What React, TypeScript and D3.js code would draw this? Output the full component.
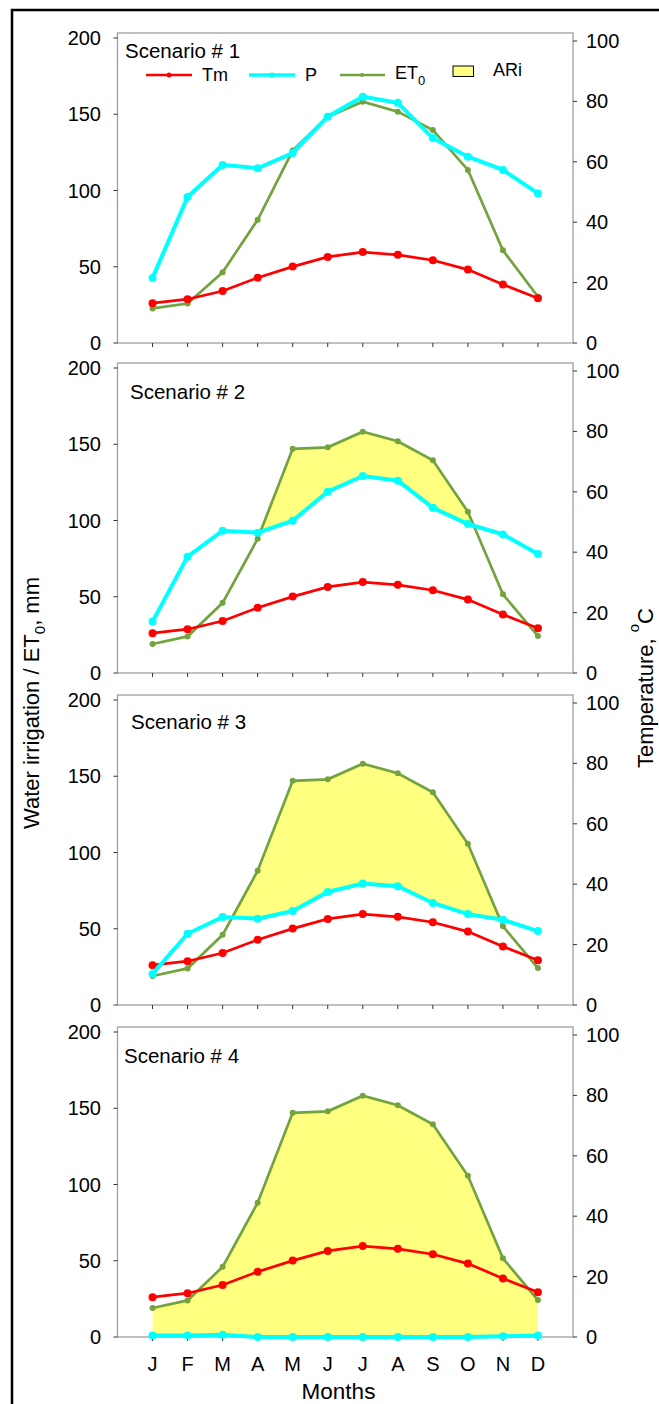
import React from "react";
import * as d3 from "d3";

// ---------- data ----------
const months = ["J", "F", "M", "A", "M", "J", "J", "A", "S", "O", "N", "D"];
const scenarioNames = ["Scenario # 1", "Scenario # 2", "Scenario # 3", "Scenario # 4"];

// mean temperature, °C (right axis)
const tm = [13.2, 14.5, 17.2, 21.6, 25.3, 28.5, 30.1, 29.2, 27.4, 24.3, 19.4, 14.8];

// reference evapotranspiration, mm (left axis)
const et0S1 = [22.7, 25.9, 46.4, 80.8, 126.2, 148.4, 158.2, 151.7, 139.7, 113.5, 60.8, 30.3];
const et0S234 = [19, 24, 46, 88, 147, 148, 158.2, 152, 139.5, 105.7, 51.6, 24.2];

// water irrigation P, mm (left axis)
const pS1 = [42.7, 95.7, 116.8, 114.6, 124.6, 148.4, 161.5, 157.5, 134.4, 122.2, 113.5, 98.1];
const pS2 = [33.7, 76.3, 93.3, 92.0, 99.9, 118.9, 129.2, 126.1, 108.4, 97.7, 90.9, 78.0];
const pS3 = [20.4, 46.7, 57.7, 56.6, 61.6, 74.1, 79.6, 77.9, 66.9, 59.6, 55.9, 48.5];
const pS4 = [1, 1, 1.5, 0, 0, 0, 0, 0, 0, 0, 0.5, 1];

const leftTicks = [0, 50, 100, 150, 200];
const rightTicks = [0, 20, 40, 60, 80, 100];

const et0Series = [et0S1, et0S234, et0S234, et0S234];
const pSeries = [pS1, pS2, pS3, pS4];
const showARi = [false, true, true, true];

// ---------- layout ----------
const W = 659;
const H = 1404;
const FONT = "'Liberation Sans', Arial, sans-serif";
const C_TM = "#ff0000";
const C_P = "#00ffff";
const C_ET = "#72a33e";
const C_ARI = "#ffff80";
const FRAME = "#a0a0a0";

const zeros = [343, 673, 1005, 1337];
const titleOffsets = [
  { x: 125, dy: 25 },
  { x: 130, dy: 36 },
  { x: 131, dy: 34 },
  { x: 124, dy: 36 },
];

const x = d3.scaleLinear().domain([0, 13]).range([117.5, 573]);

type Pt = { x: number; e: number; p: number };

function ariPoints(e: number[], p: number[]): Pt[] {
  const pts: Pt[] = [];
  for (let i = 0; i < e.length; i++) {
    pts.push({ x: i + 1, e: e[i], p: p[i] });
    if (i < e.length - 1) {
      const d0 = e[i] - p[i];
      const d1 = e[i + 1] - p[i + 1];
      if (d0 * d1 < 0) {
        const t = d0 / (d0 - d1);
        pts.push({
          x: i + 1 + t,
          e: e[i] + t * (e[i + 1] - e[i]),
          p: p[i] + t * (p[i + 1] - p[i]),
        });
      }
    }
  }
  return pts;
}

function Panel({ idx }: { idx: number }) {
  const zero = zeros[idx];
  const top = zero - 310;
  const yL = d3.scaleLinear().domain([0, 200]).range([zero, zero - 305]);
  const yR = d3.scaleLinear().domain([0, 100]).range([zero, zero - 302]);
  const e = et0Series[idx];
  const p = pSeries[idx];
  const lineL = d3
    .line<number>()
    .x((_, i) => x(i + 1))
    .y((d) => yL(d));
  const lineR = d3
    .line<number>()
    .x((_, i) => x(i + 1))
    .y((d) => yR(d));
  const area = d3
    .area<Pt>()
    .x((d) => x(d.x))
    .y0((d) => yL(d.p))
    .y1((d) => yL(Math.max(d.e, d.p)));
  const x0 = x(0);
  const x1 = x(13);
  const t = titleOffsets[idx];
  return (
    <g>
      {/* frame */}
      <rect x={x0} y={top} width={x1 - x0} height={zero - top} fill="none" stroke={FRAME} strokeWidth={1.3} />
      {/* ARi */}
      {showARi[idx] && <path d={area(ariPoints(e, p)) || ""} fill={C_ARI} stroke="none" />}
      {/* left ticks */}
      {leftTicks.map((v) => (
        <g key={"l" + v}>
          <line x1={x0 - 4} x2={x0} y1={yL(v)} y2={yL(v)} stroke="#333" strokeWidth={1} />
          <text x={101} y={yL(v) + 7} textAnchor="end" fontSize={20} fontFamily={FONT} fill="#000">
            {v}
          </text>
        </g>
      ))}
      {/* right ticks */}
      {rightTicks.map((v) => (
        <g key={"r" + v}>
          <line x1={x1} x2={x1 + 4} y1={yR(v)} y2={yR(v)} stroke="#333" strokeWidth={1} />
          <text x={586} y={yR(v) + 7} textAnchor="start" fontSize={20} fontFamily={FONT} fill="#000">
            {v}
          </text>
        </g>
      ))}
      {/* bottom ticks */}
      {months.map((m, i) => (
        <line key={"b" + i} x1={x(i + 1)} x2={x(i + 1)} y1={zero} y2={zero + 4} stroke="#333" strokeWidth={1} />
      ))}
      {/* ET0 */}
      <path d={lineL(e) || ""} fill="none" stroke={C_ET} strokeWidth={2.7} />
      {e.map((v, i) => (
        <circle key={"e" + i} cx={x(i + 1)} cy={yL(v)} r={3} fill={C_ET} />
      ))}
      {/* Tm */}
      <path d={lineR(tm) || ""} fill="none" stroke={C_TM} strokeWidth={2.7} />
      {tm.map((v, i) => (
        <circle key={"t" + i} cx={x(i + 1)} cy={yR(v)} r={4} fill={C_TM} />
      ))}
      {/* P */}
      <path d={lineL(p) || ""} fill="none" stroke={C_P} strokeWidth={4} />
      {p.map((v, i) => (
        <circle key={"p" + i} cx={x(i + 1)} cy={yL(v)} r={4} fill={C_P} />
      ))}
      {/* scenario label */}
      <text x={t.x} y={top + t.dy} fontSize={20.5} fontFamily={FONT} fill="#000">
        {scenarioNames[idx]}
      </text>
    </g>
  );
}

function Legend() {
  const ly = 75;
  return (
    <g fontFamily={FONT} fontSize={18} fill="#000">
      <line x1={146} x2={192} y1={ly} y2={ly} stroke={C_TM} strokeWidth={2.7} />
      <circle cx={169} cy={ly} r={2.5} fill={C_TM} />
      <text x={202} y={ly + 6}>Tm</text>
      <line x1={249} x2={295} y1={ly} y2={ly} stroke={C_P} strokeWidth={3.5} />
      <circle cx={272} cy={ly} r={2.5} fill={C_P} />
      <text x={305} y={ly + 6}>P</text>
      <line x1={340} x2={385} y1={ly} y2={ly} stroke={C_ET} strokeWidth={2.7} />
      <circle cx={362} cy={ly} r={2} fill={C_ET} />
      <text x={395} y={ly + 4}>
        ET<tspan fontSize={13} dy={6}>0</tspan>
      </text>
      <rect x={453} y={66} width={20.5} height={10.5} fill={C_ARI} stroke="#000" strokeWidth={1} />
      <text x={493} y={ly + 1}>ARi</text>
    </g>
  );
}

export default function App() {
  return (
    <svg
      width={W}
      height={H}
      viewBox={`0 0 ${W} ${H}`}
      style={{ position: "absolute", left: 0, top: 0, background: "#fff" }}
    >
      <rect x={0} y={0} width={W} height={H} fill="#fff" />
      <rect x={12} y={10} width={W + 50} height={H + 50} fill="none" stroke="#000" strokeWidth={2.5} />
      {[0, 1, 2, 3].map((i) => (
        <Panel key={i} idx={i} />
      ))}
      <Legend />
      {/* month labels */}
      {months.map((m, i) => (
        <text
          key={"m" + i}
          x={x(i + 1)}
          y={1371}
          textAnchor="middle"
          fontSize={20}
          fontFamily={FONT}
          fill="#000"
        >
          {m}
        </text>
      ))}
      <text x={338.5} y={1399} textAnchor="middle" fontSize={22.5} fontFamily={FONT} fill="#000">
        Months
      </text>
      {/* left axis title */}
      <text transform="translate(39,829) rotate(-90)" fontSize={22} fontFamily={FONT} fill="#000">
        Water irrigation / ET<tspan fontSize={15} dy={6}>0</tspan>
        <tspan dy={-6}>, mm</tspan>
      </text>
      {/* right axis title */}
      <text transform="translate(653,768) rotate(-90)" fontSize={22} fontFamily={FONT} fill="#000">
        Temperature,{" "}
        <tspan fontSize={15} dy={-14}>o</tspan>
        <tspan dy={14}>C</tspan>
      </text>
    </svg>
  );
}
